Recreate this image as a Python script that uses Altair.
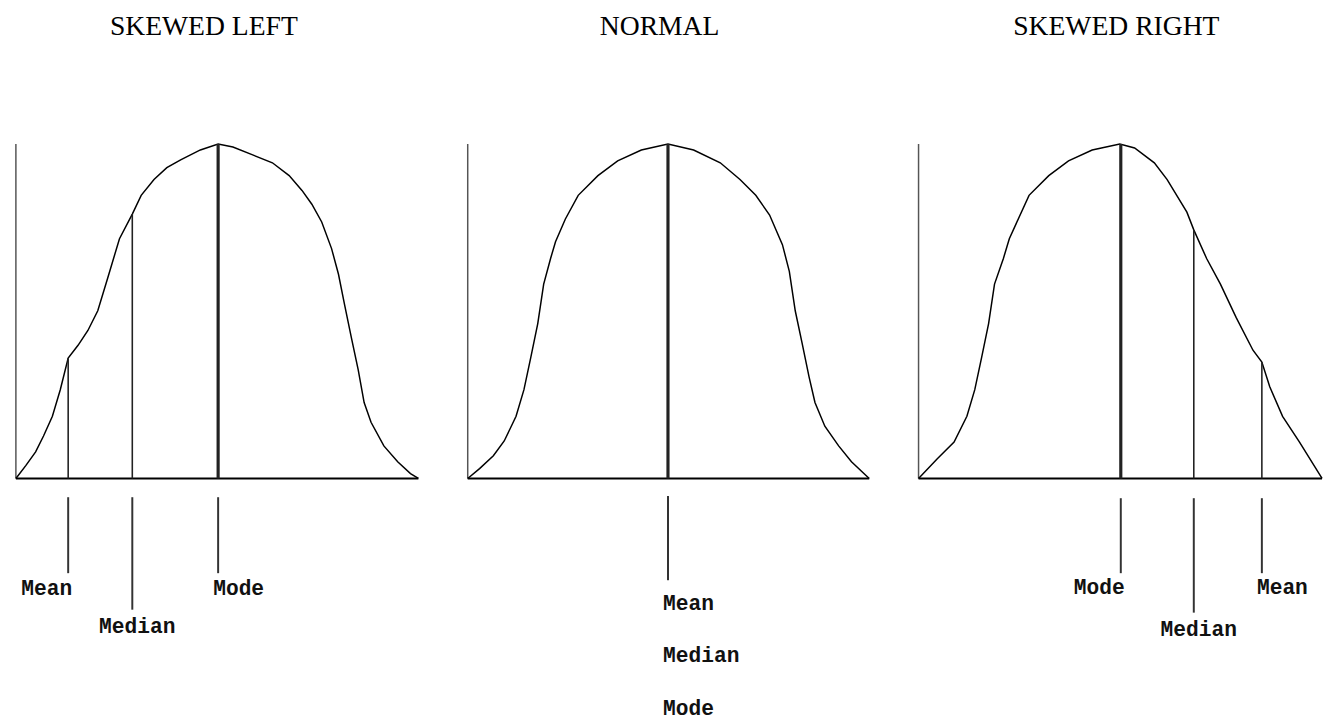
import altair as alt
import pandas as pd

# ---- curve shapes (x along baseline, height above baseline) ----
left_x = [0, 10, 20, 28, 37, 45, 53, 63, 73, 83, 93, 105, 118, 127, 140, 153, 167, 187, 205,
          220, 240, 260, 277, 290, 300, 310, 320, 327, 333, 340, 347, 353, 360, 373, 387, 400, 408]
left_y = [0, 13, 27, 43, 63, 90, 122, 135, 150, 170, 203, 243, 268, 287, 303, 315, 323, 333, 339,
          336, 328, 320, 307, 292, 278, 260, 233, 207, 177, 143, 110, 77, 57, 33, 17, 5, 0]

normal_x = [0, 12, 26, 37, 49, 57, 64, 71, 77, 84, 89, 99, 112, 132, 152, 176, 203,
            229, 256, 276, 292, 306, 319, 326, 332, 339, 346, 352, 362, 376, 389, 407]
normal_y = [0, 10, 23, 38, 63, 90, 123, 157, 197, 223, 240, 263, 287, 307, 322, 333, 339,
            333, 320, 303, 287, 267, 237, 210, 170, 137, 103, 77, 53, 33, 17, 0]

right_x = [0, 19, 36, 49, 57, 64, 71, 77, 86, 92, 112, 132, 152, 176, 204,
           219, 239, 252, 272, 279, 292, 306, 322, 339, 348, 356, 369, 386, 409]
right_y = [0, 20, 37, 63, 90, 123, 157, 197, 223, 243, 287, 307, 322, 333, 339,
           335, 320, 303, 270, 252, 223, 197, 163, 130, 118, 93, 63, 37, 0]

# ---- statistics: position on the baseline and height of the curve there ----
left_stats = ["Mean", "Median", "Mode"]
left_stat_x = [53, 118, 205]
left_stat_h = [122, 268, 339]

normal_stats = ["Mean", "Median", "Mode"]
normal_stat_x = [203, 203, 203]
normal_stat_h = [339, 339, 339]

right_stats = ["Mode", "Median", "Mean"]
right_stat_x = [205, 279, 348]
right_stat_h = [339, 252, 118]

titles = ["SKEWED LEFT", "NORMAL", "SKEWED RIGHT"]

# ---- layout constants ----
W, H = 409, 582
Y_DOM = [-242, 340]
LABEL_FONT = "Liberation Mono"


def panel(title, cx, cy, stats, sx, sh, rows, sides, tick_top, tick_ends, label_bases, tdx):
    xs = alt.Scale(domain=[0, W], nice=False, zero=False)
    ys = alt.Scale(domain=Y_DOM, nice=False, zero=False)
    X = lambda f: alt.X(f, type="quantitative", scale=xs, axis=None)
    Y = lambda f: alt.Y(f, type="quantitative", scale=ys, axis=None)

    curve = pd.DataFrame({"x": cx, "y": cy})
    peak = max(cy)
    frame_v = pd.DataFrame({"x": [min(cx)], "y": [0], "y2": [peak]})
    frame_h = pd.DataFrame({"x": [min(cx)], "x2": [max(cx)], "y": [0]})

    st = pd.DataFrame({"stat": stats, "x": sx, "h": sh, "row": rows, "side": sides})
    st["zero"] = 0
    st["t0"] = tick_top
    st["t1"] = [tick_ends[r] for r in rows]
    st["ly"] = [label_bases[r] for r in rows]

    vaxis = alt.Chart(frame_v).mark_rule(color="#555", strokeWidth=1.5).encode(
        x=X("x"), y=Y("y"), y2="y2")
    base = alt.Chart(frame_h).mark_rule(color="#000", strokeWidth=2).encode(
        x=X("x"), x2="x2", y=Y("y"))
    line = alt.Chart(curve).mark_line(color="#000", strokeWidth=1.5).encode(
        x=X("x"), y=Y("y"))
    uniq = st.drop_duplicates("x")
    vlines = alt.Chart(uniq).mark_rule(color="#222").encode(
        x=X("x"), y=Y("zero"), y2="h",
        strokeWidth=alt.condition(alt.datum.h >= peak - 1, alt.value(3.2), alt.value(1.6)))
    ticks = alt.Chart(st).mark_rule(color="#333", strokeWidth=2).encode(
        x=X("x"), y=Y("t0"), y2="t1")

    layers = [vaxis, base, line, vlines, ticks]
    offs = {"left": -5, "center": 5, "right": 4}
    for side in ["left", "center", "right"]:
        sub = st[st["side"] == side]
        if len(sub) == 0:
            continue
        layers.append(
            alt.Chart(sub).mark_text(align=side, baseline="alphabetic", dx=offs[side],
                                     font=LABEL_FONT, fontSize=21.5, fontWeight="bold",
                                     color="#111").encode(
                x=X("x"), y=Y("ly"), text="stat"))

    return alt.layer(*layers).properties(
        width=W, height=H,
        title=alt.TitleParams(text=title, font="Liberation Serif", fontSize=28,
                              fontWeight="normal", color="#000", anchor="middle",
                              baseline="alphabetic", offset=80, dx=tdx))


p1 = panel(titles[0], left_x, left_y, left_stats, left_stat_x, left_stat_h,
           rows=[0, 1, 0], sides=["right", "center", "left"], tick_top=-19,
           tick_ends=[-96, -133], label_bases=[-118, -157], tdx=-14)
p2 = panel(titles[1], normal_x, normal_y, normal_stats, normal_stat_x, normal_stat_h,
           rows=[0, 1, 2], sides=["left", "left", "left"], tick_top=-18,
           tick_ends=[-103, -103, -103], label_bases=[-133, -186, -240], tdx=-10)
p3 = panel(titles[2], right_x, right_y, right_stats, right_stat_x, right_stat_h,
           rows=[0, 1, 0], sides=["right", "center", "left"], tick_top=-20,
           tick_ends=[-96, -136], label_bases=[-117, -160], tdx=-4)

chart = alt.hconcat(p1, p2, p3, spacing=44).properties(
    padding={"left": 5, "top": 0, "right": 0, "bottom": 0},
    background="white",
).configure_view(stroke=None)

chart.save("out.html", embed_options={"renderer": "svg", "actions": False})
